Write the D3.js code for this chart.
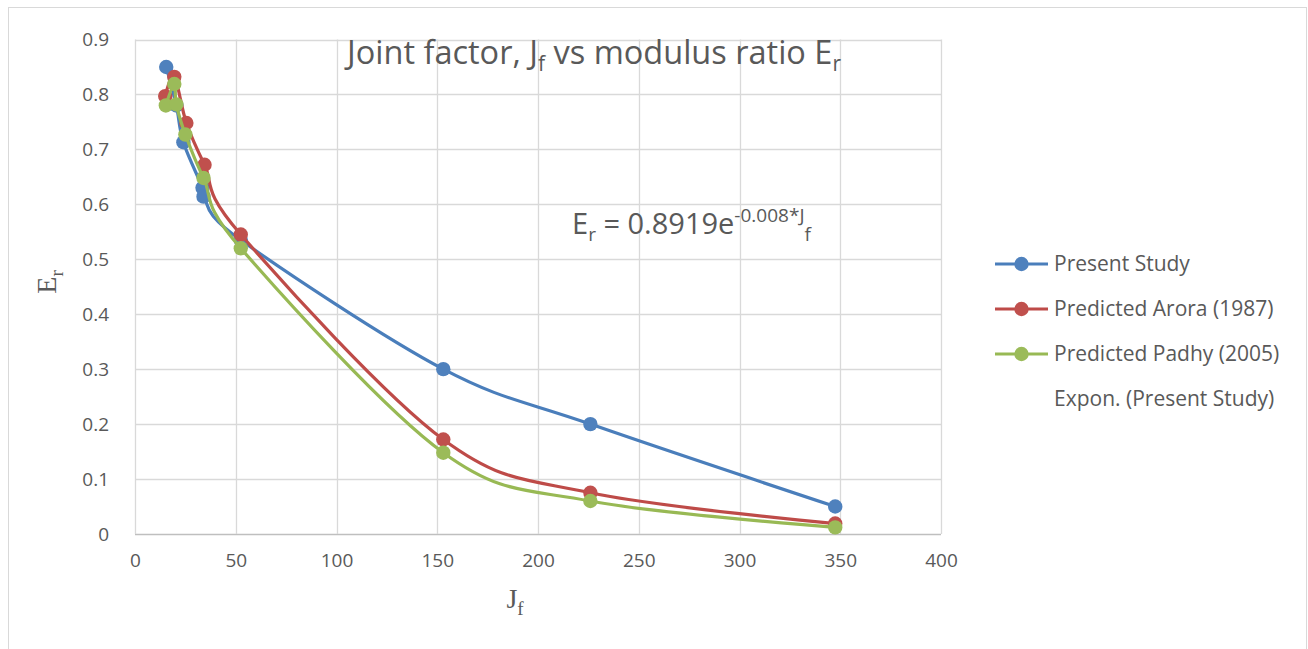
<!DOCTYPE html>
<html>
<head>
<meta charset="utf-8">
<script src="https://cdn.jsdelivr.net/npm/d3@7"></script>
<style>
  html, body { margin: 0; padding: 0; background: #fff; }
  svg { display: block; font-family: "Open Sans", "Noto Sans", sans-serif; }
</style>
</head>
<body>
<svg id="chart" width="1308" height="649"></svg>
<script>
// ── Data ─────────────────────────────────────────────────────────────────────
const jfPresent = [15.5, 20.5, 24, 33.5, 34, 52.5, 153, 226, 347.5];
const erPresent = [0.85, 0.78, 0.713, 0.63, 0.614, 0.535, 0.30, 0.20, 0.05];
const jfArora = [15, 19.5, 25.5, 34.5, 52.5, 153, 226, 347.5];
const erArora = [0.797, 0.832, 0.748, 0.672, 0.545, 0.172, 0.075, 0.019];
const jfPadhy = [15.3, 19.5, 20.5, 25, 34, 52.5, 153, 226, 347.5];
const erPadhy = [0.78, 0.819, 0.782, 0.727, 0.648, 0.52, 0.148, 0.06, 0.012];

const seriesNames = ["Present Study", "Predicted Arora (1987)", "Predicted Padhy (2005)"];
const trendName = "Expon. (Present Study)";
const lineColors = ["#4a7ebb", "#be4b48", "#98b954"];
const markerColors = ["#4f81bd", "#c0504d", "#9bbb59"];
const xTicks = [0, 50, 100, 150, 200, 250, 300, 350, 400];
const yTicks = [0, 0.1, 0.2, 0.3, 0.4, 0.5, 0.6, 0.7, 0.8, 0.9];

const series = [
  { name: seriesNames[0], pts: jfPresent.map((x, i) => [x, erPresent[i]]) },
  { name: seriesNames[1], pts: jfArora.map((x, i) => [x, erArora[i]]) },
  { name: seriesNames[2], pts: jfPadhy.map((x, i) => [x, erPadhy[i]]) },
];

// ── Layout ───────────────────────────────────────────────────────────────────
const svg = d3.select("#chart");
const plot = { left: 135, right: 941, top: 39.5, bottom: 534 };

const x = d3.scaleLinear().domain([0, 400]).range([plot.left, plot.right]);
const y = d3.scaleLinear().domain([0, 0.9]).range([plot.bottom, plot.top]);

// chart border
svg.append("rect")
  .attr("x", 8.5).attr("y", 7.5)
  .attr("width", 1298).attr("height", 660)
  .attr("fill", "none").attr("stroke", "#d9d9d9");

// gridlines
const grid = svg.append("g");
grid.selectAll(".h").data(yTicks).join("line")
  .attr("x1", plot.left).attr("x2", plot.right)
  .attr("y1", (d) => Math.round(y(d)) + 0.5).attr("y2", (d) => Math.round(y(d)) + 0.5)
  .attr("stroke", (d) => (d === 0 ? "#bfbfbf" : "#d9d9d9")).attr("stroke-width", 1.3);
grid.selectAll(".v").data(xTicks).join("line")
  .attr("y1", plot.top).attr("y2", plot.bottom)
  .attr("x1", (d) => Math.round(x(d)) + 0.5).attr("x2", (d) => Math.round(x(d)) + 0.5)
  .attr("stroke", "#d9d9d9").attr("stroke-width", 1.3);

// tick labels via axes (no domain/tick lines)
const yAxis = svg.append("g")
  .attr("transform", `translate(${plot.left - 23},0)`)
  .call(d3.axisLeft(y).tickValues(yTicks).tickSize(0).tickFormat((d) => d3.format("")(+d.toFixed(1))));
const xAxis = svg.append("g")
  .attr("transform", `translate(0,${plot.bottom + 16})`)
  .call(d3.axisBottom(x).tickValues(xTicks).tickSize(0).tickFormat(d3.format("d")));
[yAxis, xAxis].forEach((g) => {
  g.select(".domain").remove();
  g.selectAll("text").attr("font-family", "'Open Sans', sans-serif")
    .attr("font-size", 19).attr("fill", "#595959");
});

// axis titles (serif)
const xt = svg.append("text")
  .attr("x", 515).attr("y", 608)
  .attr("text-anchor", "middle")
  .attr("font-family", "'Liberation Serif', 'DejaVu Serif', serif")
  .attr("font-size", 28).attr("fill", "#595959");
xt.append("tspan").text("J");
xt.append("tspan").attr("dy", 7).attr("font-size", 19).text("f");

const yt = svg.append("text")
  .attr("transform", "translate(56,282) rotate(-90)")
  .attr("text-anchor", "middle")
  .attr("font-family", "'Liberation Serif', 'DejaVu Serif', serif")
  .attr("font-size", 28).attr("fill", "#595959");
yt.append("tspan").text("E");
yt.append("tspan").attr("dy", 7).attr("font-size", 19).text("r");

// title
const title = svg.append("text")
  .attr("x", 347).attr("y", 64)
  .attr("font-size", 32.5).attr("fill", "#595959");
title.append("tspan").text("Joint factor, J");
title.append("tspan").attr("dy", 7).attr("font-size", 21).text("f");
title.append("tspan").attr("dy", -7).text(" vs modulus ratio E");
title.append("tspan").attr("dy", 7).attr("font-size", 21).text("r");

// trendline equation
const eq = svg.append("text")
  .attr("x", 572).attr("y", 234)
  .attr("font-size", 29).attr("fill", "#595959");
eq.append("tspan").text("E");
eq.append("tspan").attr("dy", 7).attr("font-size", 19).text("r");
eq.append("tspan").attr("dy", -7).text(" = 0.8919e");
eq.append("tspan").attr("dy", -12).attr("font-size", 19).text("-0.008*J");
eq.append("tspan").attr("dy", 19).attr("font-size", 19).text("f");

// ── Series ───────────────────────────────────────────────────────────────────
const line = d3.line()
  .x((d) => x(d[0]))
  .y((d) => y(d[1]))
  .curve(d3.curveCatmullRom.alpha(0));

series.forEach((s, i) => {
  const g = svg.append("g");
  g.append("path")
    .attr("d", line(s.pts))
    .attr("fill", "none")
    .attr("stroke", lineColors[i])
    .attr("stroke-width", 3.2)
    .attr("stroke-linejoin", "round");
  g.selectAll("circle").data(s.pts).join("circle")
    .attr("cx", (d) => x(d[0]))
    .attr("cy", (d) => y(d[1]))
    .attr("r", 7.2)
    .attr("fill", markerColors[i]);
});

// ── Legend ───────────────────────────────────────────────────────────────────
const legend = svg.append("g").attr("transform", "translate(995,264)");
const legendNames = [...seriesNames, trendName];
legendNames.forEach((name, i) => {
  const row = legend.append("g").attr("transform", `translate(0,${i * 45})`);
  if (i < 3) {
    row.append("line").attr("x1", 0).attr("x2", 53).attr("y1", 0).attr("y2", 0)
      .attr("stroke", lineColors[i]).attr("stroke-width", 3.2);
    row.append("circle").attr("cx", 26.5).attr("cy", 0).attr("r", 7.2)
      .attr("fill", markerColors[i]);
  }
  row.append("text").attr("x", 59).attr("y", 7)
    .attr("font-size", 21).attr("fill", "#595959").text(name);
});
</script>
</body>
</html>
